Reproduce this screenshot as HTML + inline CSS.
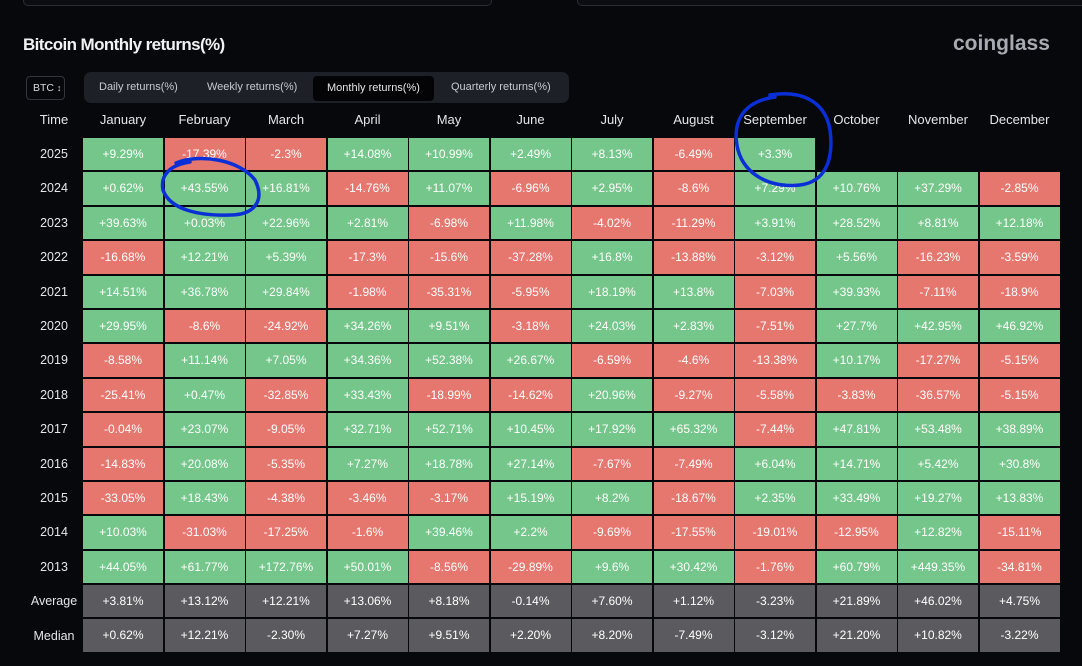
<!DOCTYPE html>
<html><head><meta charset="utf-8"><style>
*{margin:0;padding:0;box-sizing:border-box}
body{width:1082px;height:666px;background:#07080c;font-family:"Liberation Sans",sans-serif;position:relative;overflow:hidden;color:#e8e8ea}
.box{position:absolute;top:-10px;height:16px;border:1px solid #2a2c33;border-radius:5px;background:#0c0d12}
.title{position:absolute;left:23px;top:35px;font-size:17px;font-weight:bold;letter-spacing:-0.6px;color:#f2f2f4}
.logo{position:absolute;left:953px;top:32px;font-size:21px;font-weight:bold;color:#a7aab0;letter-spacing:0px}
.btc{position:absolute;left:26px;top:76px;width:39px;height:24px;border:1px solid #33353c;border-radius:4px;font-size:10.5px;color:#d8d8dc;line-height:22px;padding-left:6px;white-space:nowrap}
.tabs{position:absolute;left:84px;top:72px;width:485px;height:31px;background:#1e2027;border-radius:7px}
.tab{position:absolute;top:8px;line-height:15px;font-size:11px;color:#c8cad2;white-space:nowrap}
.tab.act{background:#040406;border-radius:4px;top:4px;height:25px;line-height:25px;padding:0 14px;color:#e6e6ea}
.hdr{position:absolute;top:112px;font-size:13px;color:#e6e6ea;text-align:center;width:80px}
.time{position:absolute;left:20px;width:68px;text-align:center;font-size:12.5px;color:#e6e6ea}
.grid{position:absolute;left:83px;top:138px;display:grid;grid-template-columns:repeat(12,80px);column-gap:1.5px;row-gap:2px;grid-auto-rows:32.4px}
.grid div{font-size:12px;color:#fff;text-align:center;line-height:32.4px}
.g{background:#74c68a}.r{background:#e5776f}.a{background:#5b5b5f}.e{background:transparent}
</style></head><body>
<div class="box" style="left:23px;width:469px"></div>
<div class="box" style="left:577px;width:520px"></div>
<div class="title">Bitcoin Monthly returns(%)</div>
<div class="logo">coinglass</div>
<div class="btc">BTC <span style="font-size:9px">↕</span></div>
<div class="tabs">
<div class="tab" style="left:15px">Daily returns(%)</div>
<div class="tab" style="left:123px">Weekly returns(%)</div>
<div class="tab act" style="left:229px">Monthly returns(%)</div>
<div class="tab" style="left:367px">Quarterly returns(%)</div>
</div>
<div class="time" style="top:112px;font-size:13px">Time</div>
<div class="hdr" style="left:83px">January</div>
<div class="hdr" style="left:164.5px">February</div>
<div class="hdr" style="left:246px">March</div>
<div class="hdr" style="left:327.5px">April</div>
<div class="hdr" style="left:409px">May</div>
<div class="hdr" style="left:490.5px">June</div>
<div class="hdr" style="left:572px">July</div>
<div class="hdr" style="left:653.5px">August</div>
<div class="hdr" style="left:735px">September</div>
<div class="hdr" style="left:816.5px">October</div>
<div class="hdr" style="left:898px">November</div>
<div class="hdr" style="left:979.5px">December</div>
<div class="time" style="top:147px">2025</div>
<div class="time" style="top:181px">2024</div>
<div class="time" style="top:216px">2023</div>
<div class="time" style="top:250px">2022</div>
<div class="time" style="top:285px">2021</div>
<div class="time" style="top:319px">2020</div>
<div class="time" style="top:353px">2019</div>
<div class="time" style="top:388px">2018</div>
<div class="time" style="top:422px">2017</div>
<div class="time" style="top:457px">2016</div>
<div class="time" style="top:491px">2015</div>
<div class="time" style="top:525px">2014</div>
<div class="time" style="top:560px">2013</div>
<div class="time" style="top:594px">Average</div>
<div class="time" style="top:629px">Median</div>
<div class="grid">
<div class="g">+9.29%</div><div class="r">-17.39%</div><div class="r">-2.3%</div><div class="g">+14.08%</div><div class="g">+10.99%</div><div class="g">+2.49%</div><div class="g">+8.13%</div><div class="r">-6.49%</div><div class="g">+3.3%</div><div class="e"></div><div class="e"></div><div class="e"></div>
<div class="g">+0.62%</div><div class="g">+43.55%</div><div class="g">+16.81%</div><div class="r">-14.76%</div><div class="g">+11.07%</div><div class="r">-6.96%</div><div class="g">+2.95%</div><div class="r">-8.6%</div><div class="g">+7.29%</div><div class="g">+10.76%</div><div class="g">+37.29%</div><div class="r">-2.85%</div>
<div class="g">+39.63%</div><div class="g">+0.03%</div><div class="g">+22.96%</div><div class="g">+2.81%</div><div class="r">-6.98%</div><div class="g">+11.98%</div><div class="r">-4.02%</div><div class="r">-11.29%</div><div class="g">+3.91%</div><div class="g">+28.52%</div><div class="g">+8.81%</div><div class="g">+12.18%</div>
<div class="r">-16.68%</div><div class="g">+12.21%</div><div class="g">+5.39%</div><div class="r">-17.3%</div><div class="r">-15.6%</div><div class="r">-37.28%</div><div class="g">+16.8%</div><div class="r">-13.88%</div><div class="r">-3.12%</div><div class="g">+5.56%</div><div class="r">-16.23%</div><div class="r">-3.59%</div>
<div class="g">+14.51%</div><div class="g">+36.78%</div><div class="g">+29.84%</div><div class="r">-1.98%</div><div class="r">-35.31%</div><div class="r">-5.95%</div><div class="g">+18.19%</div><div class="g">+13.8%</div><div class="r">-7.03%</div><div class="g">+39.93%</div><div class="r">-7.11%</div><div class="r">-18.9%</div>
<div class="g">+29.95%</div><div class="r">-8.6%</div><div class="r">-24.92%</div><div class="g">+34.26%</div><div class="g">+9.51%</div><div class="r">-3.18%</div><div class="g">+24.03%</div><div class="g">+2.83%</div><div class="r">-7.51%</div><div class="g">+27.7%</div><div class="g">+42.95%</div><div class="g">+46.92%</div>
<div class="r">-8.58%</div><div class="g">+11.14%</div><div class="g">+7.05%</div><div class="g">+34.36%</div><div class="g">+52.38%</div><div class="g">+26.67%</div><div class="r">-6.59%</div><div class="r">-4.6%</div><div class="r">-13.38%</div><div class="g">+10.17%</div><div class="r">-17.27%</div><div class="r">-5.15%</div>
<div class="r">-25.41%</div><div class="g">+0.47%</div><div class="r">-32.85%</div><div class="g">+33.43%</div><div class="r">-18.99%</div><div class="r">-14.62%</div><div class="g">+20.96%</div><div class="r">-9.27%</div><div class="r">-5.58%</div><div class="r">-3.83%</div><div class="r">-36.57%</div><div class="r">-5.15%</div>
<div class="r">-0.04%</div><div class="g">+23.07%</div><div class="r">-9.05%</div><div class="g">+32.71%</div><div class="g">+52.71%</div><div class="g">+10.45%</div><div class="g">+17.92%</div><div class="g">+65.32%</div><div class="r">-7.44%</div><div class="g">+47.81%</div><div class="g">+53.48%</div><div class="g">+38.89%</div>
<div class="r">-14.83%</div><div class="g">+20.08%</div><div class="r">-5.35%</div><div class="g">+7.27%</div><div class="g">+18.78%</div><div class="g">+27.14%</div><div class="r">-7.67%</div><div class="r">-7.49%</div><div class="g">+6.04%</div><div class="g">+14.71%</div><div class="g">+5.42%</div><div class="g">+30.8%</div>
<div class="r">-33.05%</div><div class="g">+18.43%</div><div class="r">-4.38%</div><div class="r">-3.46%</div><div class="r">-3.17%</div><div class="g">+15.19%</div><div class="g">+8.2%</div><div class="r">-18.67%</div><div class="g">+2.35%</div><div class="g">+33.49%</div><div class="g">+19.27%</div><div class="g">+13.83%</div>
<div class="g">+10.03%</div><div class="r">-31.03%</div><div class="r">-17.25%</div><div class="r">-1.6%</div><div class="g">+39.46%</div><div class="g">+2.2%</div><div class="r">-9.69%</div><div class="r">-17.55%</div><div class="r">-19.01%</div><div class="r">-12.95%</div><div class="g">+12.82%</div><div class="r">-15.11%</div>
<div class="g">+44.05%</div><div class="g">+61.77%</div><div class="g">+172.76%</div><div class="g">+50.01%</div><div class="r">-8.56%</div><div class="r">-29.89%</div><div class="g">+9.6%</div><div class="g">+30.42%</div><div class="r">-1.76%</div><div class="g">+60.79%</div><div class="g">+449.35%</div><div class="r">-34.81%</div>
<div class="a">+3.81%</div><div class="a">+13.12%</div><div class="a">+12.21%</div><div class="a">+13.06%</div><div class="a">+8.18%</div><div class="a">-0.14%</div><div class="a">+7.60%</div><div class="a">+1.12%</div><div class="a">-3.23%</div><div class="a">+21.89%</div><div class="a">+46.02%</div><div class="a">+4.75%</div>
<div class="a">+0.62%</div><div class="a">+12.21%</div><div class="a">-2.30%</div><div class="a">+7.27%</div><div class="a">+9.51%</div><div class="a">+2.20%</div><div class="a">+8.20%</div><div class="a">-7.49%</div><div class="a">-3.12%</div><div class="a">+21.20%</div><div class="a">+10.82%</div><div class="a">-3.22%</div>
</div>
<svg width="1082" height="666" style="position:absolute;left:0;top:0" fill="none" stroke="#0b2fd6" stroke-width="3.5" stroke-linecap="round">
<path d="M176 163 C200 153 240 160 255 180 C265 200 255 215 230 215 C200 216 170 210 163 190 C160 175 170 165 190 162"/>
<path d="M770 95 C800 90 825 100 830 130 C834 160 825 182 800 185 C770 188 745 175 738 150 C732 125 740 102 775 97"/>
</svg>
</body></html>
